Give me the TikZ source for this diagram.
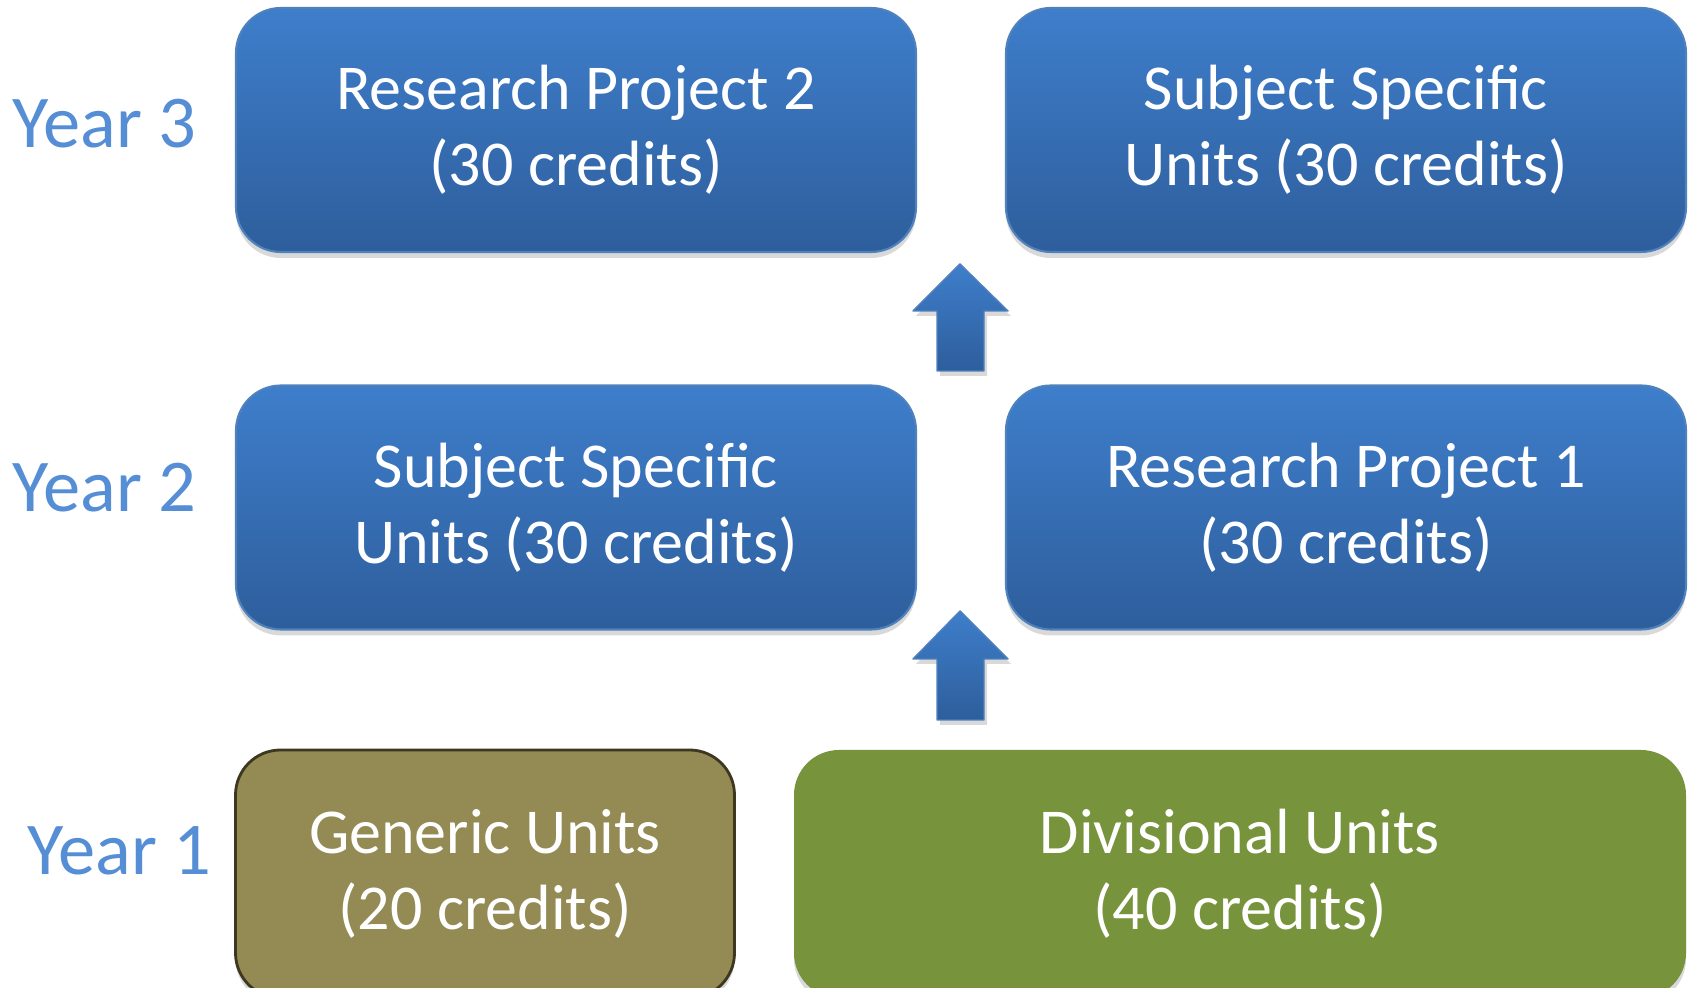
\documentclass[tikz,border=0pt]{standalone}
\usepackage{fontspec}
\setmainfont{Carlito}
\usepackage{tikz}
\usetikzlibrary{shadows}

\definecolor{boxtop}{RGB}{62,126,203}
\definecolor{boxbot}{RGB}{46,94,156}
\definecolor{boxline}{RGB}{79,129,189}
\definecolor{yearblue}{RGB}{85,142,213}
\definecolor{genfill}{RGB}{148,138,84}
\definecolor{genline}{RGB}{60,55,30}
\definecolor{divfill}{RGB}{119,147,60}

\begin{document}
\begin{tikzpicture}[line cap=round,line join=round,x=1cm,y=1cm]
\useasboundingbox (0,0) rectangle (16.94,9.88);
\clip (0,0) rectangle (16.94,9.88);
\tikzstyle{unitbox}= [rectangle, rounded corners=0.45cm, align=center, text=white,
  font=\fontsize{18.2}{21.6}\selectfont, inner sep=0pt,
  drop shadow={shadow xshift=0cm, shadow yshift=-0.06cm, opacity=0.3}];
\tikzstyle{bluebox}= [unitbox, draw=boxline, line width=0.6pt, top color=boxtop, bottom color=boxbot,
  minimum width=6.8cm, minimum height=2.44cm];
\tikzstyle{yearlabel}= [text=yearblue, font=\fontsize{21.2}{25}\selectfont, anchor=west];
\tikzstyle{uparrow}= [draw=boxline, line width=0.4pt, top color=boxtop, bottom color=boxbot,
  drop shadow={shadow xshift=0.03cm, shadow yshift=-0.05cm, opacity=0.3}];
% year 3
\node[bluebox] (proj2) at (5.76, 8.58) {Research Project 2\\(30 credits)};
\node[bluebox] (subj3) at (13.46, 8.58) {Subject Specific\\Units (30 credits)};
% year 2
\node[bluebox] (subj2) at (5.76, 4.805) {Subject Specific\\Units (30 credits)};
\node[bluebox] (proj1) at (13.46, 4.805) {Research Project 1\\(30 credits)};
% year 1
\node[unitbox, draw=genline, line width=0.8pt, fill=genfill, minimum width=4.99cm, minimum height=2.48cm]
  (generic) at (4.85, 1.14) {Generic Units\\(20 credits)};
\node[unitbox, fill=divfill, minimum width=8.92cm, minimum height=2.48cm]
  (divis) at (12.40, 1.14) {Divisional Units\\(40 credits)};
% labels
\node[yearlabel] (year3) at (0.0, 8.64) {Year 3};
\node[yearlabel] (year2) at (0.0, 5.00) {Year 2};
\node[yearlabel] (year1) at (0.15, 1.37) {Year 1};
% arrows
\draw[uparrow] (9.37,6.17)--(9.37,6.77)--(9.13,6.77)--(9.60,7.24)--(10.08,6.77)--(9.84,6.77)--(9.84,6.17)--cycle;
\draw[uparrow] (9.37,2.68)--(9.37,3.29)--(9.13,3.29)--(9.60,3.77)--(10.08,3.29)--(9.84,3.29)--(9.84,2.68)--cycle;
\end{tikzpicture}
\end{document}
